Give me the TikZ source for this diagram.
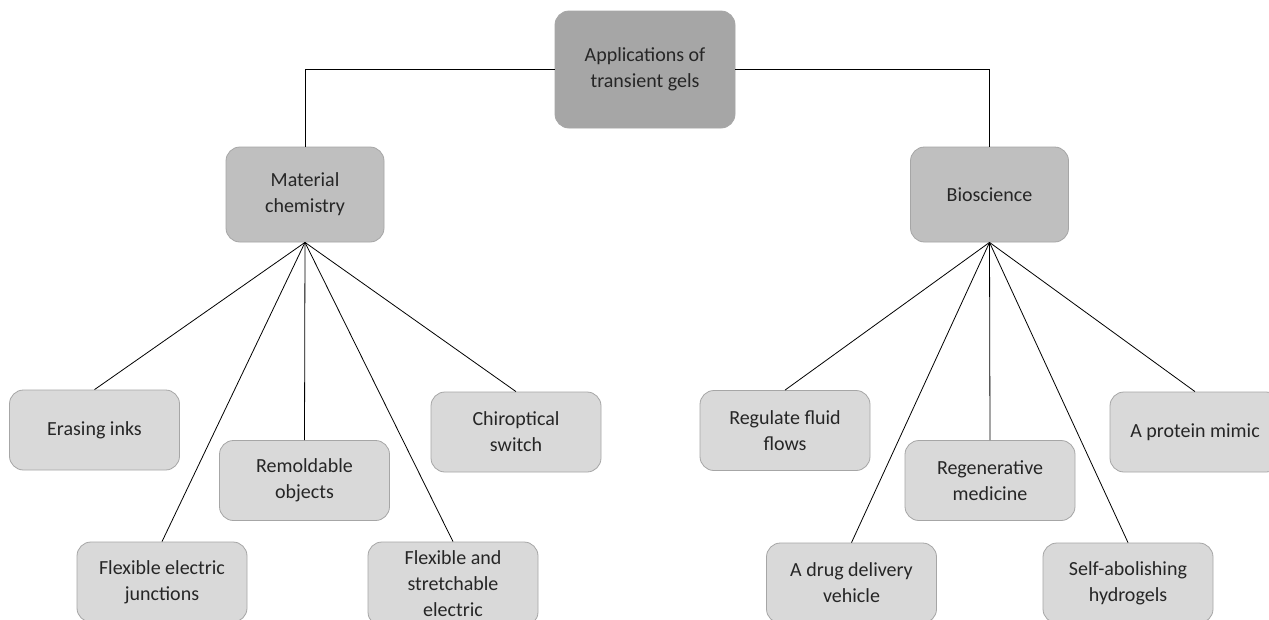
\documentclass[tikz,border=0pt]{standalone}
\usepackage{fontspec}
\setmainfont{Carlito}
\begin{document}
\begin{tikzpicture}[x=1pt,y=-1pt,
  box/.style={draw=black!35, line width=0.8pt, rounded corners=14pt, align=center,
    text=black!85, font=\fontsize{20}{26}\selectfont, inner sep=2pt},
  rootbox/.style={box, fill=black!35, minimum width=180pt, minimum height=117pt},
  midbox/.style={box, fill=black!25, minimum width=158pt, minimum height=95pt},
  leafbox/.style={box, fill=black!15, minimum width=170pt, minimum height=80pt},
  link/.style={draw=black, line width=0.8pt}]
\useasboundingbox (0,0) rectangle (1269,619);
\clip (0,0) rectangle (1269,619);
\fill[white] (0,0) rectangle (1269,619);
\node[rootbox] (root) at (645,69.5) {Applications of\\transient gels};
\node[midbox] (mc) at (305,194.5) {Material\\chemistry};
\node[midbox] (bio) at (989.5,194.5) {Bioscience};
% material chemistry leaves
\node[leafbox] (ei) at (94.5,430) {Erasing inks};
\node[leafbox] (ro) at (304.5,480.5) {Remoldable\\objects};
\node[leafbox] (cs) at (516,432) {Chiroptical\\switch};
\node[leafbox] (fej) at (162,582) {Flexible electric\\junctions};
\node[leafbox, minimum height=84pt] (fse) at (453,584) {Flexible and\\stretchable\\electric};
% bioscience leaves
\node[leafbox] (rff) at (785,430.5) {Regulate fluid\\flows};
\node[leafbox] (rm) at (990,480.5) {Regenerative\\medicine};
\node[leafbox] (pm) at (1195,432) {A protein mimic};
\node[leafbox] (ddv) at (851.5,583) {A drug delivery\\vehicle};
\node[leafbox] (sah) at (1128,583) {Self-abolishing\\hydrogels};
% connectors
\draw[link] (root.west) -| (mc.north);
\draw[link] (root.east) -| (bio.north);
\foreach \t in {ei,ro,cs,fej,fse} \draw[link] (mc.south) -- (\t.north);
\foreach \t in {rff,rm,pm,ddv,sah} \draw[link] (bio.south) -- (\t.north);
\end{tikzpicture}
\end{document}
